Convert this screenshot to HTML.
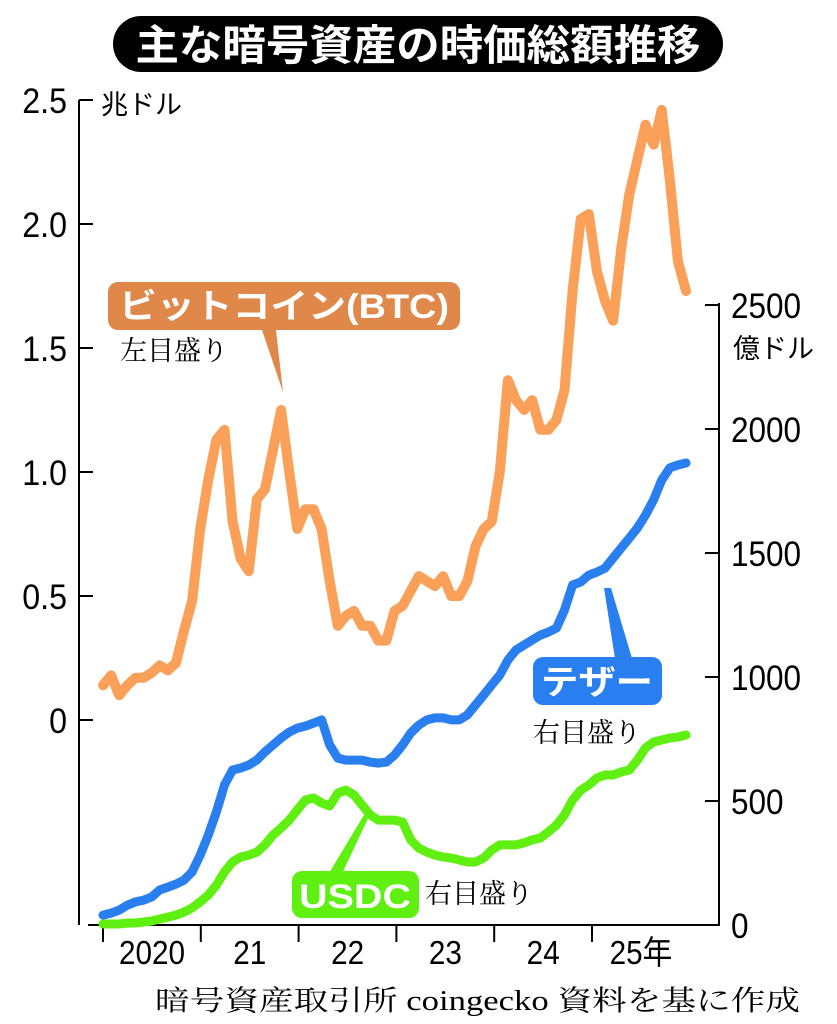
<!DOCTYPE html>
<html><head><meta charset="utf-8">
<style>
html,body{margin:0;padding:0;background:#fff;}
svg{display:block;}
text{font-family:"Liberation Sans","Noto Sans CJK JP",sans-serif;}
.serif{font-family:"Liberation Serif","Noto Serif CJK SC",serif;}
</style></head>
<body>
<svg id="chart" width="837" height="1024" viewBox="0 0 837 1024" xmlns="http://www.w3.org/2000/svg">
  <rect x="113" y="16" width="610" height="56" rx="28" fill="#000"/>
  <text x="418" y="60" text-anchor="middle" font-size="42" font-weight="bold" fill="#fff" textLength="565" lengthAdjust="spacingAndGlyphs">主な暗号資産の時価総額推移</text>

  <g id="axes"></g>
  <g id="series"></g>

  <polygon points="262,330 276,330 283,392" fill="#e0874a"/>
  <rect x="108" y="282" width="352" height="48" rx="10" fill="#e0874a"/>
  <text x="284" y="318" text-anchor="middle" font-size="34" font-weight="bold" fill="#fff" textLength="330" lengthAdjust="spacingAndGlyphs">ビットコイン(BTC)</text>
  <text class="serif" x="120" y="360" font-size="27" fill="#000">左目盛り</text>

  <polygon points="604,588 611,588 634,665 616,665" fill="#2a7ff0"/>
  <rect x="533" y="657" width="129" height="48" rx="10" fill="#2a7ff0"/>
  <text x="597" y="694" text-anchor="middle" font-size="34" font-weight="bold" fill="#fff" textLength="112" lengthAdjust="spacingAndGlyphs">テザー</text>
  <text class="serif" x="533" y="742" font-size="27" fill="#000">右目盛り</text>

  <polygon points="367,810 372,810 340,878 326,878" fill="#5ff012"/>
  <rect x="292" y="871" width="127" height="47" rx="10" fill="#5ff012"/>
  <text x="355" y="908" text-anchor="middle" font-size="34" font-weight="bold" fill="#fff" textLength="112" lengthAdjust="spacingAndGlyphs">USDC</text>
  <text class="serif" x="425" y="903" font-size="27" fill="#000">右目盛り</text>

  <text x="101" y="114" font-size="27" fill="#000">兆ドル</text>
  <text x="733" y="358" font-size="27" fill="#000">億ドル</text>
  <text class="serif" x="155" y="1010" font-size="28" fill="#000" textLength="645" lengthAdjust="spacingAndGlyphs">暗号資産取引所 coingecko 資料を基に作成</text>
</svg>
<script>
const leftTicks = [0, 0.5, 1.0, 1.5, 2.0, 2.5];
const leftTickLabels = ["0", "0.5", "1.0", "1.5", "2.0", "2.5"];
const rightTicks = [0, 500, 1000, 1500, 2000, 2500];
const rightTickLabels = ["0", "500", "1000", "1500", "2000", "2500"];
const yearLabels = ["2020", "21", "22", "23", "24", "25年"];
const btcValues = [0.14,0.18,0.10,0.14,0.17,0.17,0.19,0.22,0.20,0.23,0.36,0.48,0.77,0.97,1.13,1.17,0.80,0.65,0.60,0.89,0.93,1.09,1.25,1.00,0.77,0.85,0.85,0.77,0.56,0.38,0.42,0.44,0.38,0.38,0.32,0.32,0.44,0.46,0.52,0.58,0.56,0.54,0.58,0.50,0.50,0.56,0.70,0.77,0.80,1.00,1.37,1.29,1.25,1.29,1.17,1.17,1.21,1.33,1.73,2.02,2.04,1.81,1.69,1.61,1.90,2.12,2.26,2.40,2.32,2.46,2.18,1.85,1.73];
const tetherValues = [40,48,60,80,93,100,113,141,153,165,181,214,282,363,456,565,625,633,645,665,698,726,754,778,794,802,814,827,726,673,665,665,665,657,653,657,685,726,774,806,827,835,835,827,827,847,887,927,968,1008,1068,1109,1129,1149,1169,1181,1197,1270,1371,1383,1411,1423,1439,1480,1520,1560,1601,1653,1714,1794,1843,1855,1863];
const usdcValues = [4,4,4,8,8,12,16,24,32,40,52,69,93,121,161,214,254,274,282,294,323,363,391,423,464,504,512,492,480,532,544,524,484,444,423,423,423,415,343,310,294,282,274,270,262,254,254,270,302,323,323,323,331,343,351,375,403,444,504,544,564,593,605,605,617,625,665,714,738,746,754,758,766];

const NS = "http://www.w3.org/2000/svg";
const X0 = 103, X1 = 686, Y0 = 925;
function xMonth(i){ return X0 + (X1 - X0) * i / (btcValues.length - 1); }
function yLeft(v){ return 720 - v * 248; }
function yRight(v){ return Y0 - v * 0.248; }
function xYear(i){ return 103 + i * 97.8; }
function mk(tag, attrs, parent){ const e=document.createElementNS(NS,tag); for(const k in attrs) e.setAttribute(k, attrs[k]); parent.appendChild(e); return e; }

const axes = document.getElementById('axes');
let e;
e = mk('line',{x1:79,y1:100,x2:79,y2:925,stroke:'#000','stroke-width':2},axes);


e = mk('line',{x1:719,y1:303,x2:719,y2:926,stroke:'#000','stroke-width':2},axes);


e = mk('line',{x1:88,y1:925,x2:720,y2:925,stroke:'#000','stroke-width':2},axes);



leftTicks.forEach((v,i)=>{
  const y = yLeft(v);
  const t = mk('line',{x1:79,y1:y,x2:93,y2:y,stroke:'#000','stroke-width':2},axes);
  
  
  const l = mk('text',{x:67,y:y+13,'text-anchor':'end','font-size':35,fill:'#000',transform:'translate(67,0) scale(0.92,1) translate(-67,0)'},axes);
  l.textContent = leftTickLabels[i];
  
  
});
rightTicks.forEach((v,i)=>{
  const y = yRight(v);
  const t = mk('line',{x1:705,y1:y,x2:719,y2:y,stroke:'#000','stroke-width':2},axes);
  
  
  const l = mk('text',{x:731,y:y+13,'font-size':35,fill:'#000',transform:'translate(731,0) scale(0.9,1) translate(-731,0)'},axes);
  l.textContent = rightTickLabels[i];
  
  
});
for(let i=0;i<6;i++){
  const x = xYear(i);
  const t = mk('line',{x1:x,y1:925,x2:x,y2:942,stroke:'#000','stroke-width':2},axes);
  
  
  const l = mk('text',{x:x+49,y:964,'text-anchor':'middle','font-size':33,fill:'#000',transform:'translate('+(x+49)+',0) scale(0.9,1) translate('+(-(x+49))+',0)'},axes);
  l.textContent = yearLabels[i];
  
  
}

const series = document.getElementById('series');
function drawLine(vals, yf, color, w, name){
  const d = vals.map((v,i)=>(i?'L':'M')+xMonth(i).toFixed(1)+','+yf(v).toFixed(1)).join(' ');
  const p = mk('path',{d:d,fill:'none',stroke:color,'stroke-width':w,'stroke-linejoin':'round','stroke-linecap':'round'},series);
  
  
}
drawLine(usdcValues, yRight, '#5ff012', 9, 'usdc-line');
drawLine(tetherValues, yRight, '#2a7ff0', 9, 'tether-line');
drawLine(btcValues, yLeft, '#fba058', 10, 'btc-line');
</script>
</body></html>
